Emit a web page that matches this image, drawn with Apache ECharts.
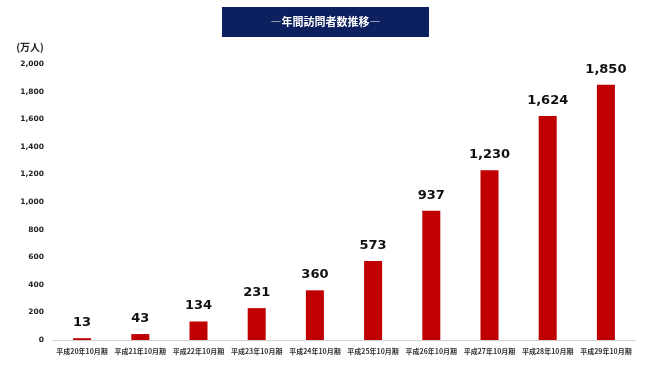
<!DOCTYPE html>
<html><head><meta charset="utf-8">
<script src="https://cdn.jsdelivr.net/npm/echarts@6/dist/echarts.min.js"></script>
<style>html,body{margin:0;padding:0;background:#fff}#c{width:650px;height:371px}</style>
</head><body><div id="c"></div>
<script>
const categories = ['平成20年10月期','平成21年10月期','平成22年10月期','平成23年10月期','平成24年10月期','平成25年10月期','平成26年10月期','平成27年10月期','平成28年10月期','平成29年10月期'];
const visitors = [13, 43, 134, 231, 360, 573, 937, 1230, 1624, 1850];
const titleText = '―年間訪問者数推移―';
const unitText = '(万人)';

const chart = echarts.init(document.getElementById('c'));
chart.setOption({
  animation: false,
  graphic: [
    {type:'rect', shape:{x:222,y:7,width:207,height:30}, style:{fill:'#0c1f5e'}},
    {type:'text', x:325.5, y:22, style:{text:titleText, fill:'#fff', font:'bold 11px "Noto Sans CJK JP"', align:'center', verticalAlign:'middle'}},
    {type:'text', x:30, y:47, style:{text:unitText, fill:'#222', font:'bold 10px "Noto Sans CJK JP"', align:'center', verticalAlign:'middle'}}
  ],
  grid: {left:53, right:15, top:64, bottom:31, containLabel:false},
  xAxis: {
    type:'category', data:categories,
    axisLine:{lineStyle:{color:'#d0d0d0'}},
    axisTick:{show:false},
    axisLabel:{interval:0, color:'#333', fontSize:7, fontWeight:'bold', fontFamily:'"Noto Sans CJK JP"', margin:8}
  },
  yAxis: {
    type:'value', min:0, max:2000, interval:200,
    splitLine:{show:false}, axisLine:{show:false}, axisTick:{show:false},
    axisLabel:{color:'#222', fontSize:7.5, fontWeight:'bold', fontFamily:'"DejaVu Sans"', margin:9,
      formatter: v => v.toLocaleString('en-US')}
  },
  series: [{
    type:'bar', data:visitors, barWidth:18,
    itemStyle:{color:'#c00000'},
    label:{show:true, position:'top', distance:9, color:'#111', fontSize:13, fontWeight:'bold',
      fontFamily:'"DejaVu Sans"', formatter: p => p.value.toLocaleString('en-US')}
  }]
});
</script></body></html>
